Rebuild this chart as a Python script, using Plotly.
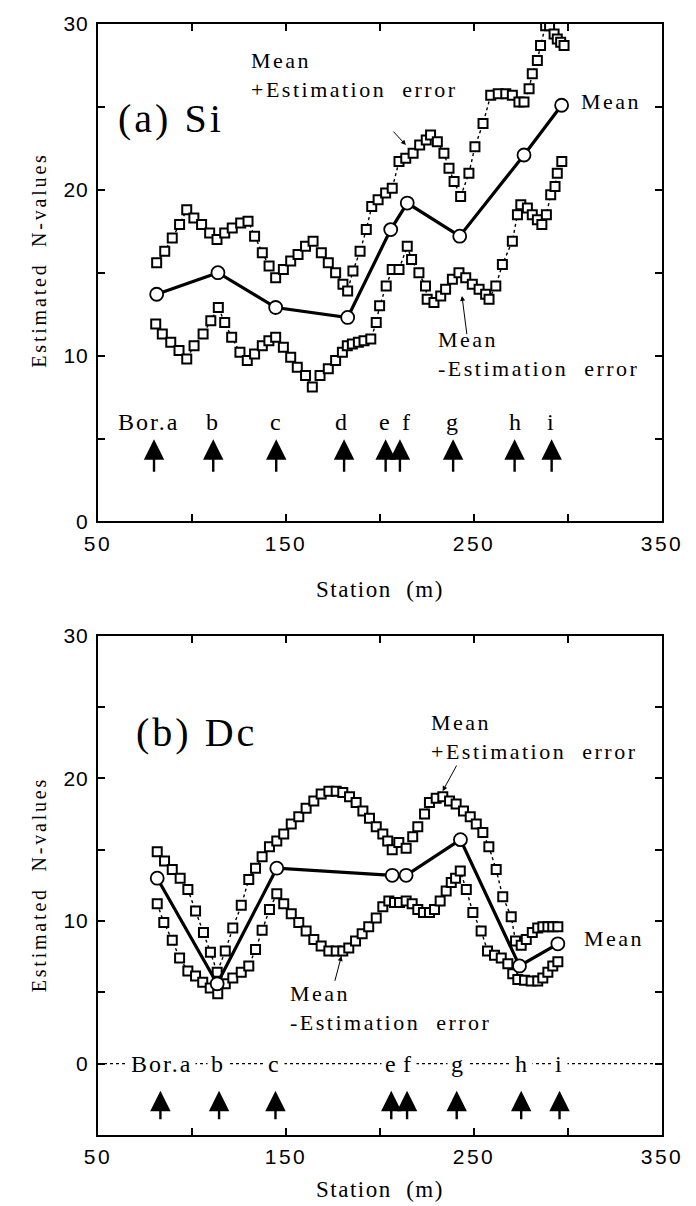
import plotly.graph_objects as go

# ---------------- Panel (a) Si ----------------
si_upper_x = [81.2, 85.5, 89.5, 93.4, 97.2, 101.0, 105.1, 109.4, 113.3, 117.4, 121.4, 125.9, 129.8,
              133.3, 137.4, 141.0, 144.5, 148.6, 152.5, 156.4, 160.4, 164.4, 168.8, 172.5, 176.4,
              180.3, 182.8, 185.6, 189.4, 192.7, 195.6, 199.0, 203.0, 206.5, 210.1, 213.7, 217.6,
              221.1, 224.6, 226.9, 230.5, 234.0, 236.7, 239.4, 242.9, 247.3, 250.5, 254.8, 258.9,
              262.9, 266.9, 270.4, 273.9, 276.6, 279.3, 281.0, 283.7, 285.4, 288.1, 290.2, 292.6,
              294.3, 296.1, 297.9]
si_upper_y = [15.6, 16.3, 17.1, 17.9, 18.8, 18.3, 17.9, 17.4, 17.0, 17.4, 17.7, 18.0, 18.1,
              17.2, 16.2, 15.4, 14.7, 15.2, 15.7, 16.1, 16.6, 16.9, 16.2, 15.6, 15.0,
              14.3, 13.9, 15.1, 16.3, 17.6, 19.0, 19.4, 19.8, 20.1, 21.7, 21.9, 22.2,
              22.7, 23.0, 23.3, 22.9, 22.2, 21.3, 20.5, 19.6, 21.0, 22.6, 24.0, 25.7,
              25.8, 25.8, 25.7, 25.3, 25.3, 26.1, 27.0, 27.8, 28.7, 29.9, 29.9, 29.4,
              29.1, 28.9, 28.7]

si_lower_x = [80.7, 84.2, 88.7, 93.1, 97.2, 101.1, 105.9, 110.0, 114.0, 117.4, 121.1, 125.5, 129.4,
              133.3, 137.4, 140.9, 144.5, 148.6, 152.5, 156.0, 160.4, 164.0, 168.1, 172.5, 176.4,
              180.0, 182.6, 185.3, 188.5, 191.5, 195.1, 198.0, 199.8, 203.3, 206.5, 210.1, 214.5,
              216.8, 220.7, 224.2, 225.1, 228.7, 232.3, 234.9, 238.5, 242.0, 245.6, 249.1, 252.7,
              256.2, 258.0, 261.6, 265.1, 270.4, 273.1, 274.9, 278.4, 281.0, 283.7, 286.1, 288.5,
              290.8, 293.1, 294.3, 296.7]
si_lower_y = [11.9, 11.3, 10.8, 10.3, 9.8, 10.6, 11.3, 12.1, 12.9, 12.0, 11.1, 10.2, 9.7,
              10.1, 10.6, 10.9, 11.1, 10.5, 9.9, 9.3, 8.8, 8.1, 8.8, 9.2, 9.7,
              10.2, 10.6, 10.7, 10.8, 10.9, 11.0, 12.0, 13.0, 14.2, 15.2, 15.2, 16.6,
              15.8, 15.0, 14.2, 13.4, 13.2, 13.6, 14.0, 14.6, 15.0, 14.7, 14.3, 14.0,
              13.7, 13.4, 14.2, 15.5, 16.9, 18.5, 19.1, 18.9, 18.5, 18.2, 17.9, 18.5,
              19.7, 20.2, 21.0, 21.7]

si_mean_x = [81.2, 113.8, 144.5, 182.8, 205.7, 214.5, 242.4, 276.6, 296.6]
si_mean_y = [13.7, 15.0, 12.9, 12.3, 17.6, 19.2, 17.2, 22.1, 25.1]

si_bor_names = ["Bor.a", "b", "c", "d", "e", "f", "g", "h", "i"]
si_bor_label_x = [77.1, 111.2, 144.7, 179.8, 203.0, 214.2, 239.0, 272.2, 291.3]
si_arrow_x = [79.8, 111.3, 144.8, 180.9, 203.0, 210.6, 238.9, 271.6, 291.3]

# ---------------- Panel (b) Dc ----------------
dc_upper_x = [81.5, 85.4, 89.5, 93.7, 97.8, 101.9, 106.1, 109.8, 113.4, 117.7, 121.7, 126.2, 130.2,
              133.8, 137.3, 141.2, 145.1, 148.8, 152.8, 156.8, 160.7, 164.8, 168.7, 172.8, 176.7,
              180.2, 183.8, 187.3, 190.9, 194.4, 198.0, 201.5, 204.1, 206.5, 210.0, 213.9, 217.4,
              220.1, 223.7, 226.3, 229.9, 233.4, 237.0, 240.5, 244.4, 248.0, 251.2, 254.7, 257.9,
              261.8, 265.3, 269.8, 272.1, 275.1, 277.8, 281.0, 283.9, 286.6, 289.3, 291.9, 294.6]
dc_upper_y = [14.85, 14.2, 13.6, 13.0, 12.2, 10.7, 9.2, 7.8, 6.4, 7.9, 9.5, 11.1, 12.9,
              13.7, 14.5, 15.2, 15.6, 16.1, 16.8, 17.3, 17.9, 18.4, 18.9, 19.1, 19.1,
              19.0, 18.7, 18.3, 17.7, 17.2, 16.6, 16.1, 15.6, 15.0, 15.5, 15.1, 15.9,
              16.6, 17.5, 18.3, 18.6, 18.7, 18.4, 18.2, 17.7, 17.3, 16.8, 16.2, 15.2,
              13.6, 11.7, 10.3, 8.6, 8.3, 8.7, 9.2, 9.5, 9.6, 9.6, 9.6, 9.6]

dc_lower_x = [81.5, 85.0, 89.5, 93.4, 97.8, 101.9, 105.7, 109.7, 113.7, 117.7, 121.7, 126.2, 130.2,
              133.8, 137.3, 141.2, 145.1, 148.8, 152.8, 156.8, 160.7, 164.8, 168.7, 172.8, 176.7,
              180.2, 183.4, 187.0, 190.5, 194.0, 198.0, 201.5, 204.7, 207.7, 210.4, 213.9, 217.1,
              220.1, 223.1, 226.3, 229.0, 232.0, 235.2, 237.9, 240.2, 242.7, 245.9, 249.4, 253.8,
              257.2, 260.9, 264.5, 268.0, 270.6, 273.3, 276.9, 280.4, 283.9, 286.6, 289.3, 291.9,
              294.6]
dc_lower_y = [11.2, 9.9, 8.65, 7.4, 6.5, 6.15, 5.7, 5.3, 4.9, 5.6, 6.0, 6.4, 6.85,
              8.0, 9.35, 10.8, 11.9, 11.2, 10.5, 9.9, 9.3, 8.7, 8.25, 7.9, 7.9,
              7.9, 8.1, 8.6, 9.1, 9.6, 10.2, 11.0, 11.4, 11.3, 11.3, 11.4, 11.2,
              10.8, 10.6, 10.6, 10.8, 11.4, 12.1, 12.7, 13.0, 13.5, 12.2, 10.6, 9.3,
              7.9, 7.6, 7.4, 7.0, 6.3, 5.9, 5.85, 5.8, 5.8, 6.0, 6.4, 6.85,
              7.15]

dc_mean_x = [81.5, 113.4, 145.1, 206.5, 213.9, 242.8, 274.2, 294.6]
dc_mean_y = [13.0, 5.6, 13.7, 13.2, 13.2, 15.7, 6.85, 8.4]

dc_bor_names = ["Bor.a", "b", "c", "e", "f", "g", "h", "i"]
dc_bor_label_x = [83.6, 113.6, 143.9, 206.0, 214.8, 241.4, 275.6, 295.5]
dc_arrow_x = [83.2, 114.4, 144.4, 206.0, 214.4, 240.8, 275.1, 295.5]

# ---------------- Axis ticks ----------------
x_tick_vals = [50, 100, 150, 200, 250, 300, 350]
x_tick_labels = ["50", "150", "250", "350"]
y_tick_vals = [0, 5, 10, 15, 20, 25, 30]
y_tick_labels = ["0", "10", "20", "30"]

SERIF = "Liberation Serif"
SANS = "Liberation Sans"


def spaced(s, px):
    return f'<span style="letter-spacing:{px}px">{s}</span>'


def tick_text(vals, labels, px):
    out = []
    for v in vals:
        s = str(v)
        out.append(spaced(s, px) if s in labels else "")
    return out


fig = go.Figure()


def add_panel(xa, ya, ux, uy, lx, ly, mx, my):
    sq = dict(symbol="square", size=9, color="white", line=dict(color="black", width=2))
    for xs, ys in ((ux, uy), (lx, ly)):
        fig.add_trace(go.Scatter(x=xs, y=ys, mode="lines+markers", xaxis=xa, yaxis=ya,
                                 line=dict(color="black", width=1.4, dash="dot"),
                                 marker=sq, showlegend=False, hoverinfo="skip"))
    fig.add_trace(go.Scatter(x=mx, y=my, mode="lines+markers", xaxis=xa, yaxis=ya,
                             line=dict(color="black", width=3.2),
                             marker=dict(symbol="circle", size=13, color="white",
                                         line=dict(color="black", width=1.8)),
                             showlegend=False, hoverinfo="skip"))


add_panel("x", "y", si_upper_x, si_upper_y, si_lower_x, si_lower_y, si_mean_x, si_mean_y)
add_panel("x2", "y2", dc_upper_x, dc_upper_y, dc_lower_x, dc_lower_y, dc_mean_x, dc_mean_y)

# dotted zero line in panel (b)
fig.add_trace(go.Scatter(x=[50, 350], y=[0, 0], mode="lines", xaxis="x2", yaxis="y2",
                         line=dict(color="black", width=1.3, dash="dot"),
                         showlegend=False, hoverinfo="skip"))

axis_common = dict(ticks="inside", ticklen=7, tickwidth=2, tickcolor="black",
                   showline=True, linewidth=2, linecolor="black", mirror="ticks",
                   showgrid=False, zeroline=False)

xcfg = dict(axis_common, range=[50, 350], tickmode="array", tickvals=x_tick_vals,
            ticktext=tick_text(x_tick_vals, x_tick_labels, 2.5),
            tickfont=dict(family=SANS, size=21, color="black"), ticklabelstandoff=2)
ycfg = dict(axis_common, tickmode="array", tickvals=y_tick_vals,
            ticktext=tick_text(y_tick_vals, y_tick_labels, 1),
            tickfont=dict(family=SANS, size=21, color="black"), ticklabelstandoff=3)

annotations = []


def txt(xref, yref, x, y, text, size, xanchor="center", yanchor="middle", align="center",
        spacing=2.5, **kw):
    annotations.append(dict(xref=xref, yref=yref, x=x, y=y, text=spaced(text, spacing),
                            showarrow=False, xanchor=xanchor, yanchor=yanchor, align=align,
                            font=dict(family=SERIF, size=size, color="black"), **kw))


def arrow(xref, yref, x, y, x0, y0, width, size, head=2):
    annotations.append(dict(xref=xref, yref=yref, axref=xref, ayref=yref, x=x, y=y, ax=x0, ay=y0,
                            text="", showarrow=True, arrowhead=head, arrowsize=size,
                            arrowwidth=width, arrowcolor="black"))


NB = "\u00a0"
two_line_plus = "Mean<br>+Estimation" + NB + NB + "error"
two_line_minus = "Mean<br>-Estimation" + NB + NB + "error"

for xref, yref, ysh, ytshift in (("x", "y", -68, 12), ("x2", "y2", -54, 0)):
    # axis titles
    annotations.append(dict(xref=xref + " domain", yref=yref + " domain", x=0.5, y=0,
                            yshift=ysh, text=spaced("Station" + NB + NB + "(m)", 1.5),
                            showarrow=False, xanchor="center", yanchor="middle",
                            font=dict(family=SERIF, size=23, color="black")))
    annotations.append(dict(xref=xref + " domain", yref=yref + " domain", x=0, y=0.5,
                            xshift=-59, yshift=ytshift,
                            text=spaced("Estimated" + NB + NB + "N-values", 2.8),
                            textangle=-90, showarrow=False, xanchor="center", yanchor="middle",
                            font=dict(family=SERIF, size=20, color="black")))

# panel (a) texts
txt("x", "y", 88.8, 24.3, "(a) Si", 40, spacing=3)
txt("x", "y", 130.3, 26.95, two_line_plus, 22, xanchor="left", align="left")
txt("x", "y", 229.8, 10.1, two_line_minus, 22, xanchor="left", align="left")
txt("x", "y", 305.9, 25.3, "Mean", 22, xanchor="left")
arrow("x", "y", 213.8, 22.7, 206.4, 23.6, 1, 1)
arrow("x", "y", 243.6, 13.6, 246.3, 11.2, 1, 1)
for name, lx in zip(si_bor_names, si_bor_label_x):
    txt("x", "y", lx, 6.0, name, 24, spacing=2)
for ax_ in si_arrow_x:
    arrow("x", "y", ax_, 4.95, ax_, 2.9, 2.4, 1.7)

# panel (b) texts
txt("x2", "y2", 102.4, 23.2, "(b) Dc", 40, spacing=3)
txt("x2", "y2", 226.3, 22.9, two_line_plus, 22, xanchor="left", align="left")
txt("x2", "y2", 150.8, 3.9, two_line_minus, 22, xanchor="left", align="left")
txt("x2", "y2", 307.7, 8.8, "Mean", 22, xanchor="left")
arrow("x2", "y2", 233.3, 19.1, 241.2, 21.0, 1, 1)
arrow("x2", "y2", 179.5, 7.55, 175.8, 5.7, 1, 1)
for name, lx in zip(dc_bor_names, dc_bor_label_x):
    txt("x2", "y2", lx, 0, name, 24, spacing=2, bgcolor="white", borderpad=3)
for ax_ in dc_arrow_x:
    arrow("x2", "y2", ax_, -1.9, ax_, -4.0, 2.4, 1.7)

fig.update_layout(
    width=696, height=1206,
    margin=dict(l=98, r=34, t=16, b=71),
    paper_bgcolor="white", plot_bgcolor="white",
    xaxis=dict(xcfg, domain=[0, 1], anchor="y"),
    yaxis=dict(ycfg, domain=[0.5523, 1], range=[0, 30], anchor="x"),
    xaxis2=dict(xcfg, domain=[0, 1], anchor="y2"),
    yaxis2=dict(ycfg, domain=[0, 0.4495], range=[-5, 30], anchor="x2"),
    annotations=annotations,
    showlegend=False,
)

fig.write_html("out.html", config={"displayModeBar": False},
               post_script="document.body.style.margin='0';")
